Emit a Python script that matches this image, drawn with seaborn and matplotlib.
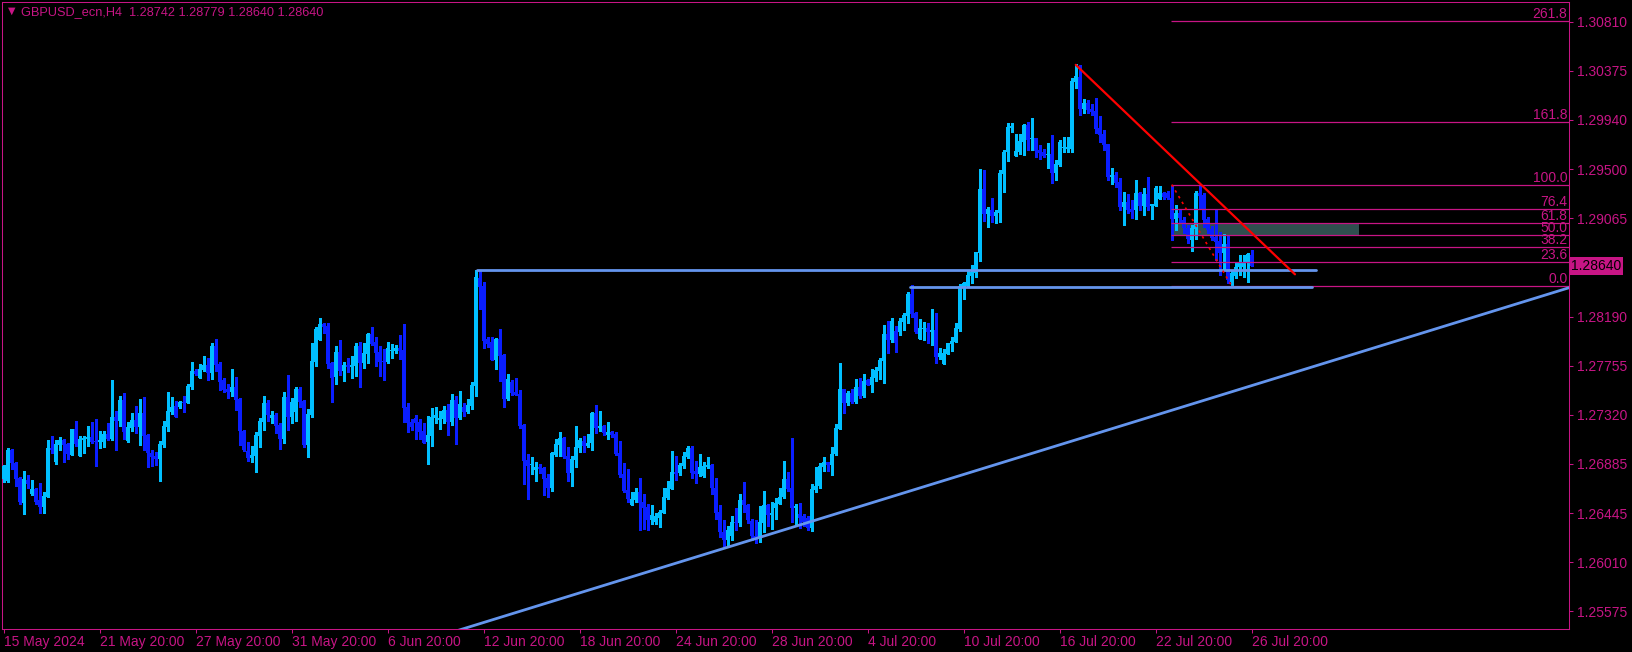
import numpy as np
import pandas as pd
import seaborn as sns
import matplotlib.pyplot as plt
from matplotlib.patches import Rectangle

BG = "black"
FG = "#C71585"
BULL = "#00BFFF"
BEAR = "#0A1EFF"
LINE_BLUE = "#6495ED"

# GBPUSD H4 bars, 15 May 2024 -> 26 Jul 2024 20:00, prices in points (1e-5)
opens = [
    126747, 126729, 127004, 126889, 126756, 126542, 126738, 126622, 126658, 126560,
    126498, 126595, 127022, 126898, 127048, 127093, 127057, 126960, 127191, 126951,
    127093, 127102, 127120, 127084, 127075, 127075, 127146, 127102, 127297, 127262,
    127448, 127084, 127199, 127270, 127208, 127333, 127137, 126977, 126951, 126924,
    127048, 127208, 127341, 127395, 127386, 127430, 127421, 127563, 127706, 127643,
    127714, 127759, 127688, 127928, 127768, 127626, 127546, 127519, 127563, 127457,
    127173, 126995, 126933, 126951, 127128, 127253, 127421, 127288, 127315, 127226,
    127102, 127475, 127297, 127341, 127546, 127439, 127048, 127315, 127785, 127981,
    128123, 128105, 127777, 127652, 127874, 127706, 127759, 127741, 127750, 127928,
    127777, 127857, 128034, 127963, 127874, 127794, 127785, 127883, 127883, 127910,
    127892, 127386, 127253, 127288, 127253, 127173, 127075, 127128, 127288, 127270,
    127279, 127359, 127253, 127448, 127288, 127386, 127341, 127395, 127572, 128531,
    128460, 127990, 127963, 127803, 127990, 127848, 127457, 127608, 127519, 127501,
    127226, 126915, 126871, 126827, 126853, 126844, 126756, 126675, 126960, 127048,
    127111, 126951, 126800, 126915, 127022, 127084, 127040, 127066, 127333, 127199,
    127217, 127137, 127164, 127146, 126977, 126791, 126649, 126516, 126560, 126631,
    126551, 126498, 126391, 126365, 126409, 126453, 126578, 126658, 126809, 126800,
    126862, 126942, 127022, 126818, 126791, 126773, 126853, 126871, 126675, 126462,
    126276, 126205, 126249, 126373, 126356, 126560, 126524, 126382, 126249, 126231,
    126356, 126516, 126427, 126489, 126533, 126587, 126747, 126667, 126489, 126436,
    126418, 126409, 126320, 126649, 126693, 126853, 126898, 126871, 126969, 127191,
    127546, 127421, 127510, 127430, 127563, 127484, 127626, 127581, 127643, 127706,
    127794, 128034, 127981, 128061, 128052, 128141, 128194, 128389, 128221, 127990,
    128078, 128087, 128052, 128070, 127830, 127768, 127857, 127945, 127963, 128078,
    128451, 128460, 128549, 128575, 128753, 129320, 129099, 129134, 129081, 129108,
    129454, 129649, 129862, 129614, 129649, 129738, 129889, 129765, 129773, 129667,
    129649, 129622, 129631, 129463, 129534, 129685, 129676, 129676, 130271, 130315,
    130031, 130084, 130031, 130013, 129862, 129809, 129720, 129427, 129445, 129383,
    129161, 129205, 129143, 129134, 129285, 129170, 129276, 129170, 129170, 129232,
    129285, 129285, 129241, 129054, 129108, 129045, 128974, 128868, 128965, 129285,
    129267, 129054, 128965, 128894, 128859, 128753, 128833, 128495, 128549, 128629,
    128629, 128673, 128742,
]
highs = [
    126871, 127022, 127013, 126898, 126764, 126818, 126782, 126738, 126667, 126711,
    126631, 127093, 127128, 127093, 127120, 127102, 127066, 127191, 127262, 127128,
    127128, 127217, 127253, 127279, 127173, 127173, 127244, 127626, 127350, 127484,
    127510, 127253, 127333, 127395, 127457, 127475, 127146, 127004, 126986, 127084,
    127262, 127519, 127475, 127439, 127439, 127484, 127590, 127785, 127723, 127768,
    127839, 127821, 127954, 127990, 127785, 127643, 127590, 127723, 127652, 127466,
    127182, 127075, 127040, 127164, 127288, 127484, 127448, 127350, 127333, 127244,
    127519, 127670, 127466, 127563, 127563, 127448, 127368, 127954, 128096, 128176,
    128132, 128132, 127785, 127928, 127981, 127785, 127821, 127839, 127954, 127963,
    127954, 128043, 128096, 128007, 127928, 127901, 127963, 127945, 127937, 128025,
    128123, 127421, 127279, 127315, 127279, 127244, 127306, 127377, 127386, 127350,
    127395, 127412, 127501, 127484, 127528, 127421, 127457, 127608, 128606, 128602,
    128495, 128007, 128007, 127999, 128078, 127857, 127679, 127626, 127643, 127537,
    127235, 126969, 126942, 126898, 126880, 126853, 126791, 126986, 127102, 127164,
    127120, 127031, 126951, 127217, 127111, 127128, 127146, 127341, 127404, 127350,
    127226, 127253, 127173, 127164, 127084, 126889, 126835, 126631, 126667, 126756,
    126622, 126533, 126524, 126453, 126480, 126675, 126729, 126995, 126951, 126889,
    126986, 127040, 127040, 126906, 126969, 126898, 126942, 126880, 126756, 126524,
    126391, 126338, 126418, 126489, 126622, 126720, 126533, 126400, 126391, 126507,
    126640, 126533, 126551, 126578, 126667, 126906, 126809, 127111, 126533, 126542,
    126436, 126418, 126702, 126853, 126889, 126942, 126898, 127031, 127235, 127777,
    127546, 127528, 127546, 127634, 127643, 127679, 127634, 127723, 127741, 127821,
    128114, 128150, 128176, 128105, 128176, 128221, 128406, 128469, 128229, 128167,
    128141, 128132, 128256, 128221, 127910, 127901, 127954, 128007, 128132, 128478,
    128495, 128593, 128646, 128762, 129498, 129489, 129161, 129241, 129134, 129489,
    129667, 129907, 129907, 129809, 129809, 129898, 129915, 129951, 129773, 129711,
    129676, 129729, 129800, 129578, 129756, 129782, 129782, 130306, 130431, 130422,
    130120, 130111, 130075, 130129, 129969, 129845, 129720, 129507, 129472, 129418,
    129294, 129276, 129223, 129401, 129294, 129330, 129427, 129188, 129347, 129347,
    129294, 129303, 129347, 129179, 129134, 129072, 129001, 129001, 129303, 129356,
    129285, 129072, 128992, 129134, 128939, 128921, 128904, 128602, 128664, 128735,
    128735, 128753, 128779,
]
lows = [
    126720, 126720, 126835, 126693, 126533, 126436, 126675, 126613, 126533, 126453,
    126453, 126595, 126977, 126880, 127004, 126898, 126924, 126960, 127040, 126951,
    126977, 127040, 127066, 126862, 127022, 127031, 127093, 127093, 127004, 127217,
    127102, 127075, 127173, 127155, 127048, 127004, 126853, 126862, 126871, 126729,
    127031, 127173, 127324, 127297, 127377, 127341, 127421, 127546, 127670, 127643,
    127706, 127626, 127634, 127706, 127537, 127519, 127466, 127484, 127359, 127048,
    126995, 126906, 126898, 126809, 127031, 127182, 127262, 127244, 127155, 127013,
    127066, 127182, 127244, 127262, 127386, 127031, 126942, 127297, 127750, 127981,
    128043, 127732, 127430, 127590, 127670, 127617, 127697, 127643, 127661, 127563,
    127732, 127777, 127937, 127750, 127661, 127626, 127777, 127821, 127866, 127812,
    127253, 127164, 127182, 127102, 127102, 127066, 126880, 127040, 127244, 127191,
    127244, 127137, 127226, 127057, 127279, 127306, 127333, 127368, 127484, 128256,
    127910, 127919, 127803, 127723, 127617, 127386, 127448, 127492, 127492, 127199,
    126702, 126569, 126791, 126729, 126800, 126613, 126595, 126640, 126951, 126951,
    126933, 126729, 126693, 126853, 126986, 126986, 127031, 127004, 127155, 127173,
    127137, 127102, 127120, 126960, 126764, 126631, 126551, 126516, 126551, 126294,
    126311, 126294, 126355, 126347, 126329, 126453, 126569, 126658, 126738, 126782,
    126844, 126933, 126756, 126711, 126773, 126764, 126844, 126622, 126400, 126240,
    126160, 126151, 126205, 126294, 126338, 126462, 126356, 126205, 126187, 126196,
    126276, 126338, 126311, 126400, 126533, 126578, 126640, 126365, 126338, 126320,
    126338, 126294, 126285, 126631, 126675, 126818, 126818, 126782, 126960, 127191,
    127333, 127404, 127421, 127421, 127466, 127475, 127581, 127519, 127617, 127634,
    127599, 127866, 127963, 127874, 128025, 128070, 128132, 128185, 128043, 127990,
    127981, 127954, 127937, 127777, 127812, 127768, 127857, 127883, 127963, 128061,
    128345, 128451, 128487, 128540, 128682, 129036, 128983, 129028, 129019, 129028,
    129294, 129569, 129827, 129614, 129631, 129622, 129667, 129667, 129605, 129587,
    129605, 129507, 129374, 129401, 129525, 129649, 129649, 129649, 130218, 129977,
    129995, 129995, 129977, 129818, 129738, 129667, 129401, 129365, 129338, 129134,
    129001, 129108, 129063, 129054, 129134, 129090, 129134, 129054, 129170, 129232,
    129232, 129232, 128868, 128957, 129019, 128930, 128841, 128770, 128877, 129152,
    128983, 128930, 128868, 128691, 128557, 128602, 128487, 128469, 128531, 128557,
    128540, 128495, 128640,
]
closes = [
    126862, 127004, 126889, 126747, 126551, 126747, 126702, 126658, 126551, 126498,
    126604, 127022, 127004, 127057, 127093, 127048, 126969, 127191, 127057, 127102,
    127111, 127120, 127075, 127075, 127093, 127146, 127102, 127297, 127262, 127448,
    127164, 127208, 127270, 127208, 127333, 127128, 126977, 126942, 126924, 127057,
    127217, 127350, 127386, 127297, 127430, 127421, 127572, 127706, 127679, 127723,
    127759, 127688, 127928, 127759, 127608, 127537, 127519, 127563, 127448, 127173,
    127004, 126933, 126960, 127137, 127262, 127421, 127315, 127315, 127217, 127102,
    127475, 127297, 127430, 127546, 127430, 127048, 127324, 127794, 128078, 128123,
    128096, 127768, 127643, 127874, 127706, 127759, 127741, 127759, 127928, 127777,
    127866, 128034, 127945, 127866, 127785, 127785, 127910, 127892, 127910, 127883,
    127377, 127244, 127208, 127244, 127164, 127066, 127137, 127297, 127315, 127288,
    127359, 127253, 127448, 127288, 127412, 127341, 127404, 127581, 128539, 128451,
    127972, 127945, 127803, 127990, 127839, 127457, 127634, 127510, 127492, 127217,
    126906, 126862, 126880, 126853, 126835, 126747, 126675, 126977, 127057, 127111,
    126942, 126800, 126924, 127031, 127093, 127040, 127066, 127333, 127199, 127217,
    127155, 127164, 127137, 126969, 126782, 126640, 126569, 126569, 126631, 126542,
    126489, 126391, 126427, 126418, 126462, 126587, 126667, 126809, 126791, 126871,
    126951, 127022, 126800, 126791, 126853, 126862, 126871, 126667, 126453, 126276,
    126205, 126294, 126373, 126356, 126560, 126516, 126391, 126249, 126231, 126365,
    126516, 126427, 126453, 126542, 126587, 126747, 126658, 126489, 126507, 126409,
    126365, 126320, 126658, 126693, 126862, 126898, 126871, 126969, 127199, 127546,
    127421, 127510, 127430, 127563, 127484, 127617, 127581, 127652, 127714, 127803,
    128034, 127981, 128150, 127954, 128150, 128203, 128389, 128212, 128052, 128087,
    128087, 128052, 128070, 127830, 127866, 127866, 127954, 127972, 128087, 128460,
    128487, 128558, 128584, 128762, 129320, 129099, 129143, 129081, 129117, 129463,
    129649, 129871, 129880, 129658, 129747, 129889, 129756, 129773, 129658, 129640,
    129614, 129631, 129463, 129543, 129738, 129694, 129694, 130280, 130324, 130031,
    130084, 130022, 130004, 129853, 129800, 129711, 129427, 129445, 129374, 129161,
    129205, 129134, 129117, 129285, 129170, 129276, 129161, 129188, 129330, 129285,
    129250, 129241, 129054, 129108, 129063, 128974, 128877, 128974, 129285, 129258,
    129045, 128957, 128885, 128850, 128753, 128833, 128513, 128575, 128629, 128664,
    128664, 128744, 128640,
]

tick_bars = [0, 24, 48, 72, 96, 120, 144, 168, 192, 216, 240, 264, 288, 312]
tick_labels = ["15 May 2024", "21 May 20:00", "27 May 20:00", "31 May 20:00",
               "6 Jun 20:00", "12 Jun 20:00", "18 Jun 20:00", "24 Jun 20:00",
               "28 Jun 20:00", "4 Jul 20:00", "10 Jul 20:00", "16 Jul 20:00",
               "22 Jul 20:00", "26 Jul 20:00"]
price_ticks = [1.25575, 1.26010, 1.26445, 1.26885, 1.27320, 1.27755,
               1.28190, 1.29065, 1.29500, 1.29940, 1.30375, 1.30810]

# fibonacci retracement drawn from the 23 Jul high to the 26 Jul low
fib_levels = [0.0, 23.6, 38.2, 50.0, 61.8, 76.4, 100.0, 161.8, 261.8]
fib_text = ["0.0", "23.6", "38.2", "50.0", "61.8", "76.4", "100.0", "161.8", "261.8"]
fib_zero = 1.28463
fib_hundred = 1.29363
fib_from = 291.8
zone_to = 338.8

# drawn objects (bar index, price)
support_price, support_from, support_to = 1.28608, 118.3, 328.0
floor_price, floor_from, floor_to = 1.28458, 226.6, 327.0
trend_x, trend_y = [110.0, 391.3], [1.25368, 1.28448]
red_x, red_y = [268.0, 322.8], [1.30426, 1.28567]
anchor_x, anchor_y = [292.0, 307.0], [1.29363, 1.28463]

last_price = 1.28640
title = "GBPUSD_ecn,H4  1.28742 1.28779 1.28640 1.28640"

n = min(len(opens), len(highs), len(lows), len(closes))
bars = pd.DataFrame({"open": opens[:n], "high": highs[:n],
                     "low": lows[:n], "close": closes[:n]}) / 1e5
bars["bar"] = np.arange(n)

sns.set_theme(style="dark", rc={"axes.facecolor": BG, "figure.facecolor": BG,
                                "axes.edgecolor": FG, "axes.grid": False})
plt.rcParams["font.family"] = ["Liberation Sans", "DejaVu Sans"]
FS = 10

W, H = 1633, 652
fig = plt.figure(figsize=(W / 100, H / 100), dpi=100)
ax = fig.add_axes([2.5 / W, 1 - 628.5 / H, (1569 - 2.5) / W, (628.5 - 2.3) / H])
ax.set_facecolor(BG)

# candles
up = bars["close"] >= bars["open"]
col = np.where(up, BULL, BEAR)
ax.vlines(bars["bar"], bars["low"], bars["high"], colors=col, linewidth=0.8,
          antialiased=False, zorder=3)
body_lo = np.minimum(bars["open"], bars["close"])
body_h = np.maximum((bars["close"] - bars["open"]).abs(), 0.00009)
ax.bar(bars["bar"], body_h, bottom=body_lo, width=0.8, color=col,
       linewidth=0, antialiased=False, zorder=3.1)

# fibo zone + levels
rng = fib_hundred - fib_zero
fib_prices = [fib_zero + rng * lv / 100 for lv in fib_levels]
p50, p618 = fib_prices[3], fib_prices[4]
ax.add_patch(Rectangle((fib_from, p50), zone_to - fib_from, p618 - p50,
                       facecolor="#2F4F4F", edgecolor="none", zorder=2))
ax.hlines(fib_prices, fib_from, 391.3, colors=FG, linewidth=0.9, zorder=4)
for p, t in zip(fib_prices, fib_text):
    ax.text(0.999, p, t, transform=ax.get_yaxis_transform(), ha="right",
            va="bottom", color=FG, fontsize=FS, zorder=6)

# lines
sns.lineplot(x=[support_from, support_to], y=[support_price] * 2, ax=ax,
             color=LINE_BLUE, linewidth=2.0, zorder=5)
sns.lineplot(x=[floor_from, floor_to], y=[floor_price] * 2, ax=ax,
             color=LINE_BLUE, linewidth=2.0, zorder=5)
sns.lineplot(x=trend_x, y=trend_y, ax=ax, color=LINE_BLUE, linewidth=2.0, zorder=5)
sns.lineplot(x=red_x, y=red_y, ax=ax, color="#FF0000", linewidth=1.6, zorder=6)
sns.lineplot(x=anchor_x, y=anchor_y, ax=ax, color="#FF0000", linewidth=1.2,
             linestyle=(0, (1.5, 2.5)), zorder=6)

ax.set_xlim(-0.3, 391.3)
ax.set_ylim(1.25424, 1.30981)
ax.set_xticks(tick_bars)
ax.set_xticklabels(tick_labels, ha="left")
ax.yaxis.tick_right()
ax.set_yticks(price_ticks)
ax.set_yticklabels([f"{p:.5f}" for p in price_ticks])
ax.tick_params(axis="both", colors=FG, labelsize=FS, length=3, width=0.75,
               direction="out")
ax.tick_params(axis="x", bottom=True, pad=1.5)
ax.tick_params(axis="y", right=True, left=False, pad=3)
ax.set_xlabel("")
ax.set_ylabel("")
for s in ax.spines.values():
    s.set_visible(True)
    s.set_color(FG)
    s.set_linewidth(0.75)

ax.text(1.0015, last_price, f"{last_price:.5f}", transform=ax.get_yaxis_transform(),
        ha="left", va="center", color="black", fontsize=FS, clip_on=False,
        bbox=dict(boxstyle="square,pad=0.12", facecolor=FG, edgecolor="none"),
        zorder=7)

fig.text(7.5 / W, 1 - 11 / H, "\u25BC", color=FG, fontsize=7,
         family="DejaVu Sans", va="center", ha="left")
fig.text(21 / W, 1 - 12 / H, title, color=FG, fontsize=9.2, va="center", ha="left")

fig.savefig("out.png", dpi=100, facecolor=BG)
